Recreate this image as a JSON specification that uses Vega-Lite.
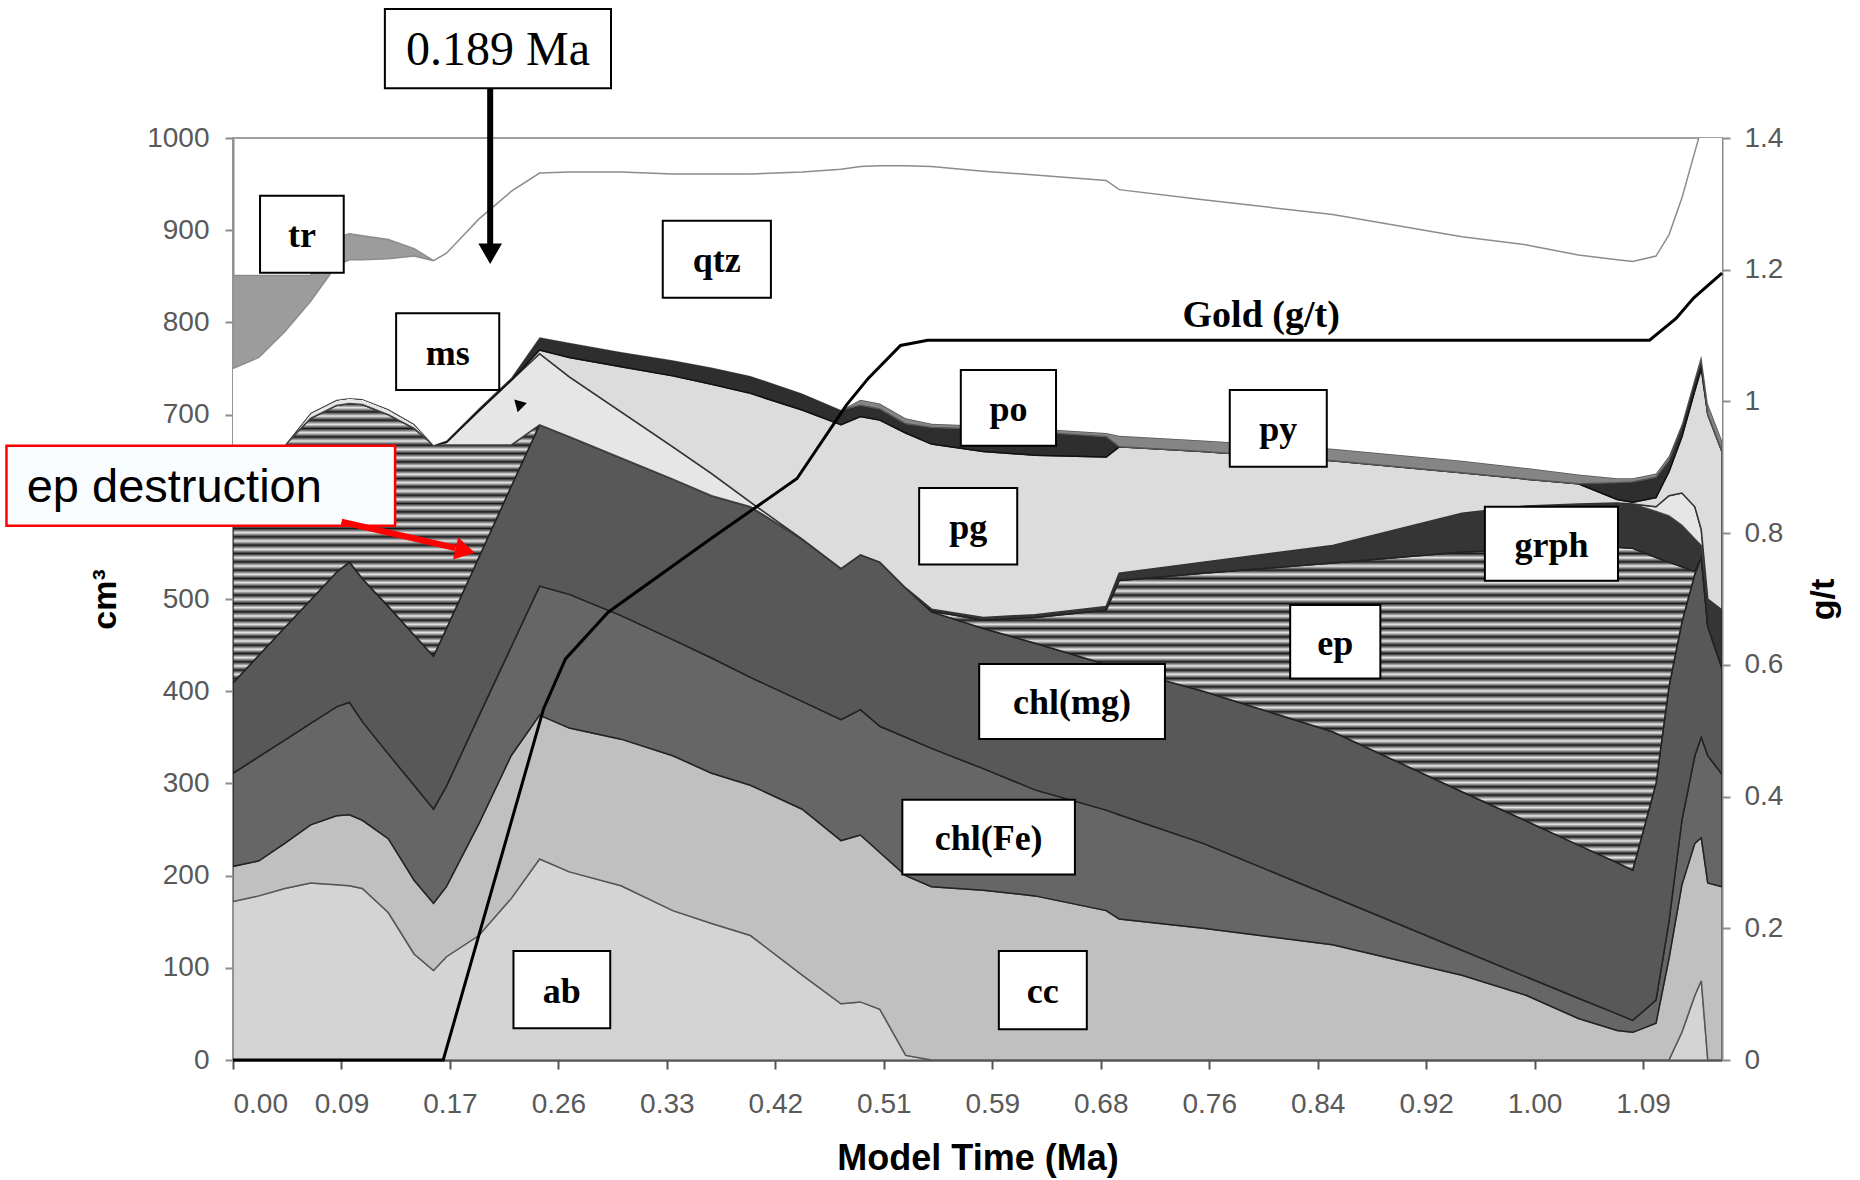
{
  "$schema": "https://vega.github.io/schema/vega-lite/v6.json",
  "width": 1489,
  "height": 922,
  "autosize": {"type": "none"},
  "padding": {"left": 233, "top": 138, "right": 138, "bottom": 120},
  "background": "#ffffff",
  "config": {
    "view": {"stroke": "#a0a0a0", "strokeWidth": 2},
    "axis": {
      "labelFont": "Liberation Sans", "titleFont": "Liberation Sans",
      "labelFontSize": 28, "labelColor": "#595959",
      "titleFontSize": 34, "titleFontWeight": "bold", "titleColor": "#000000",
      "tickColor": "#8c8c8c", "domainColor": "#8c8c8c", "domainWidth": 2, "tickWidth": 2,
      "tickSize": 8, "grid": false, "labelOverlap": false
    }
  },
  "resolve": {"scale": {"y": "independent"}},
  "layer": [
    {
      "layer": [
        {
          "data": {"values": [
            {"t":0,"ab":172,"cc":38,"chl(Fe)":101,"chl(mg)":98,"ep":258,"grph":0,"ms":0,"pg":0,"po":0,"py":0,"qtz":83,"tr":101},
            {"t":0.02,"ab":178,"cc":38,"chl(Fe)":113,"chl(mg)":110,"ep":228,"grph":0,"ms":0,"pg":0,"po":0,"py":0,"qtz":95,"tr":89},
            {"t":0.04,"ab":186,"cc":49,"chl(Fe)":112,"chl(mg)":122,"ep":198,"grph":0,"ms":0,"pg":0,"po":0,"py":0,"qtz":123,"tr":61},
            {"t":0.06,"ab":192,"cc":63,"chl(Fe)":110,"chl(mg)":134,"ep":197,"grph":0,"ms":6,"pg":0,"po":0,"py":0,"qtz":121,"tr":28},
            {"t":0.08,"ab":190,"cc":75,"chl(Fe)":118,"chl(mg)":146,"ep":181,"grph":0,"ms":6,"pg":0,"po":0,"py":0,"qtz":146,"tr":30},
            {"t":0.09,"ab":189,"cc":77,"chl(Fe)":122,"chl(mg)":152,"ep":172,"grph":0,"ms":6,"pg":0,"po":0,"py":0,"qtz":150,"tr":28},
            {"t":0.1,"ab":186,"cc":74,"chl(Fe)":107,"chl(mg)":155,"ep":189,"grph":0,"ms":6,"pg":0,"po":0,"py":0,"qtz":151,"tr":26},
            {"t":0.12,"ab":160,"cc":80,"chl(Fe)":92,"chl(mg)":160,"ep":208,"grph":0,"ms":6,"pg":0,"po":0,"py":0,"qtz":163,"tr":21},
            {"t":0.14,"ab":115,"cc":80,"chl(Fe)":103,"chl(mg)":163,"ep":224,"grph":0,"ms":5,"pg":0,"po":0,"py":0,"qtz":182,"tr":8},
            {"t":0.155,"ab":97,"cc":73,"chl(Fe)":102,"chl(mg)":166,"ep":229,"grph":0,"ms":0,"pg":0,"po":0,"py":0,"qtz":200,"tr":0},
            {"t":0.165,"ab":112,"cc":76,"chl(Fe)":109,"chl(mg)":171,"ep":199,"grph":0,"ms":3,"pg":0,"po":2,"py":0,"qtz":203,"tr":0},
            {"t":0.19,"ab":135,"cc":121,"chl(Fe)":117,"chl(mg)":172,"ep":122,"grph":0,"ms":37,"pg":0,"po":3,"py":0,"qtz":205,"tr":0},
            {"t":0.215,"ab":175,"cc":155,"chl(Fe)":118,"chl(mg)":174,"ep":45,"grph":0,"ms":70,"pg":0,"po":3,"py":0,"qtz":202,"tr":0},
            {"t":0.237,"ab":218,"cc":156,"chl(Fe)":140,"chl(mg)":175,"ep":0,"grph":0,"ms":77,"pg":4,"po":14,"py":0,"qtz":178,"tr":0},
            {"t":0.26,"ab":204,"cc":156,"chl(Fe)":145,"chl(mg)":171,"ep":0,"grph":0,"ms":65,"pg":21,"po":16,"py":0,"qtz":185,"tr":0},
            {"t":0.3,"ab":189,"cc":159,"chl(Fe)":134,"chl(mg)":171,"ep":0,"grph":0,"ms":50,"pg":49,"po":16,"py":0,"qtz":195,"tr":0},
            {"t":0.34,"ab":162,"cc":168,"chl(Fe)":126,"chl(mg)":174,"ep":0,"grph":0,"ms":35,"pg":77,"po":17,"py":0,"qtz":202,"tr":0},
            {"t":0.37,"ab":148,"cc":163,"chl(Fe)":125,"chl(mg)":176,"ep":0,"grph":0,"ms":24,"pg":97,"po":18,"py":0,"qtz":210,"tr":0},
            {"t":0.4,"ab":135,"cc":163,"chl(Fe)":117,"chl(mg)":185,"ep":0,"grph":0,"ms":5,"pg":118,"po":19,"py":0,"qtz":219,"tr":0},
            {"t":0.44,"ab":92,"cc":180,"chl(Fe)":117,"chl(mg)":176,"ep":0,"grph":0,"ms":0,"pg":140,"po":18,"py":0,"qtz":240,"tr":0},
            {"t":0.47,"ab":61,"cc":177,"chl(Fe)":131,"chl(mg)":164,"ep":0,"grph":0,"ms":0,"pg":156,"po":16,"py":0,"qtz":261,"tr":0},
            {"t":0.485,"ab":63,"cc":181,"chl(Fe)":136,"chl(mg)":168,"ep":0,"grph":0,"ms":0,"pg":150,"po":12,"py":6,"qtz":253,"tr":0},
            {"t":0.5,"ab":55,"cc":170,"chl(Fe)":137,"chl(mg)":178,"ep":0,"grph":0,"ms":0,"pg":154,"po":12,"py":6,"qtz":258,"tr":0},
            {"t":0.52,"ab":5,"cc":195,"chl(Fe)":150,"chl(mg)":162,"ep":0,"grph":0,"ms":0,"pg":168,"po":10,"py":6,"qtz":274,"tr":0},
            {"t":0.54,"ab":0,"cc":188,"chl(Fe)":150,"chl(mg)":148,"ep":1,"grph":2,"ms":0,"pg":179,"po":18,"py":4,"qtz":279,"tr":0},
            {"t":0.58,"ab":0,"cc":184,"chl(Fe)":132,"chl(mg)":152,"ep":9,"grph":3,"ms":0,"pg":180,"po":24,"py":4,"qtz":276,"tr":0},
            {"t":0.62,"ab":0,"cc":178,"chl(Fe)":115,"chl(mg)":159,"ep":28,"grph":3,"ms":0,"pg":173,"po":25,"py":4,"qtz":275,"tr":0},
            {"t":0.675,"ab":0,"cc":162,"chl(Fe)":109,"chl(mg)":158,"ep":59,"grph":4,"ms":0,"pg":162,"po":22,"py":4,"qtz":274,"tr":0},
            {"t":0.685,"ab":0,"cc":153,"chl(Fe)":113,"chl(mg)":159,"ep":95,"grph":8,"ms":0,"pg":137,"po":0,"py":12,"qtz":267,"tr":0},
            {"t":0.75,"ab":0,"cc":143,"chl(Fe)":92,"chl(mg)":165,"ep":128,"grph":12,"ms":0,"pg":120,"po":0,"py":12,"qtz":261,"tr":0},
            {"t":0.85,"ab":0,"cc":125,"chl(Fe)":52,"chl(mg)":179,"ep":183,"grph":19,"ms":0,"pg":92,"po":0,"py":13,"qtz":254,"tr":0},
            {"t":0.95,"ab":0,"cc":92,"chl(Fe)":27,"chl(mg)":172,"ep":260,"grph":42,"ms":0,"pg":44,"po":0,"py":13,"qtz":243,"tr":0},
            {"t":1.0,"ab":0,"cc":70,"chl(Fe)":20,"chl(mg)":169,"ep":295,"grph":47,"ms":0,"pg":29,"po":0,"py":12,"qtz":242,"tr":0},
            {"t":1.04,"ab":0,"cc":45,"chl(Fe)":22,"chl(mg)":166,"ep":323,"grph":47,"ms":0,"pg":22,"po":0,"py":10,"qtz":238,"tr":0},
            {"t":1.07,"ab":0,"cc":32,"chl(Fe)":18,"chl(mg)":164,"ep":342,"grph":48,"ms":0,"pg":4,"po":18,"py":5,"qtz":237,"tr":0},
            {"t":1.082,"ab":0,"cc":30,"chl(Fe)":13,"chl(mg)":163,"ep":349,"grph":48,"ms":0,"pg":2,"po":22,"py":4,"qtz":235,"tr":0},
            {"t":1.1,"ab":0,"cc":40,"chl(Fe)":25,"chl(mg)":235,"ep":245,"grph":50,"ms":5,"pg":10,"po":22,"py":4,"qtz":236,"tr":0},
            {"t":1.11,"ab":0,"cc":110,"chl(Fe)":40,"chl(mg)":255,"ep":135,"grph":50,"ms":22,"pg":26,"po":12,"py":5,"qtz":240,"tr":0},
            {"t":1.12,"ab":30,"cc":160,"chl(Fe)":70,"chl(mg)":215,"ep":60,"grph":45,"ms":35,"pg":61,"po":12,"py":2,"qtz":245,"tr":0},
            {"t":1.13,"ab":70,"cc":165,"chl(Fe)":95,"chl(mg)":197,"ep":3,"grph":35,"ms":35,"pg":126,"po":12,"py":2,"qtz":245,"tr":0},
            {"t":1.135,"ab":86,"cc":155,"chl(Fe)":109,"chl(mg)":195,"ep":0,"grph":13,"ms":17,"pg":175,"po":10,"py":4,"qtz":246,"tr":0},
            {"t":1.14,"ab":0,"cc":192,"chl(Fe)":138,"chl(mg)":140,"ep":0,"grph":30,"ms":0,"pg":200,"po":0,"py":12,"qtz":318,"tr":0},
            {"t":1.151,"ab":0,"cc":188,"chl(Fe)":122,"chl(mg)":115,"ep":0,"grph":63,"ms":0,"pg":172,"po":0,"py":12,"qtz":378,"tr":0}
          ]},
          "transform": [{"fold": ["ab","cc","chl(Fe)","chl(mg)","ep","grph","ms","pg","po","py","qtz","tr"], "as": ["mineral","vol"]}],
          "mark": {"type": "area", "clip": true, "strokeWidth": 1.5, "strokeJoin": "miter"},
          "encoding": {
            "x": {"field": "t", "type": "quantitative", "scale": {"domain": [0, 1.151], "nice": false, "zero": false},
                  "axis": {"values": [0,0.083846,0.167692,0.251538,0.335385,0.419231,0.503077,0.586923,0.670769,0.754615,0.838462,0.922308,1.006154,1.09],
                           "labelExpr": "['0.00','0.09','0.17','0.26','0.33','0.42','0.51','0.59','0.68','0.76','0.84','0.92','1.00','1.09'][round(datum.value / 0.083846)]",
                           "title": "Model Time (Ma)", "titleFontSize": 36, "titlePadding": 23, "labelPadding": 21,
                           "tickSize": 9, "domainColor": "#555555", "domainWidth": 2.5, "tickColor": "#555555"}},
            "y": {"field": "vol", "type": "quantitative", "stack": "zero", "scale": {"domain": [0, 1000], "nice": false},
                  "axis": {"values": [0,100,200,300,400,500,700,800,900,1000], "format": "d", "title": "cm³", "titlePadding": 24, "labelPadding": 16}},
            "color": {
              "condition": {"test": "datum.mineral === 'ep'", "value": {"gradient": "linear", "x1": 0, "y1": 0, "x2": 0, "y2": 1, "stops": [
                {"offset":0,"color":"#1a1a1a"},{"offset":0.00893,"color":"#e8e8e8"},{"offset":0.01786,"color":"#1a1a1a"},{"offset":0.02679,"color":"#e8e8e8"},
                {"offset":0.03571,"color":"#1a1a1a"},{"offset":0.04464,"color":"#e8e8e8"},{"offset":0.05357,"color":"#1a1a1a"},{"offset":0.0625,"color":"#e8e8e8"},
                {"offset":0.07143,"color":"#1a1a1a"},{"offset":0.08036,"color":"#e8e8e8"},{"offset":0.08929,"color":"#1a1a1a"},{"offset":0.09821,"color":"#e8e8e8"},
                {"offset":0.10714,"color":"#1a1a1a"},{"offset":0.11607,"color":"#e8e8e8"},{"offset":0.125,"color":"#1a1a1a"},{"offset":0.13393,"color":"#e8e8e8"},
                {"offset":0.14286,"color":"#1a1a1a"},{"offset":0.15179,"color":"#e8e8e8"},{"offset":0.16071,"color":"#1a1a1a"},{"offset":0.16964,"color":"#e8e8e8"},
                {"offset":0.17857,"color":"#1a1a1a"},{"offset":0.1875,"color":"#e8e8e8"},{"offset":0.19643,"color":"#1a1a1a"},{"offset":0.20536,"color":"#e8e8e8"},
                {"offset":0.21429,"color":"#1a1a1a"},{"offset":0.22321,"color":"#e8e8e8"},{"offset":0.23214,"color":"#1a1a1a"},{"offset":0.24107,"color":"#e8e8e8"},
                {"offset":0.25,"color":"#1a1a1a"},{"offset":0.25893,"color":"#e8e8e8"},{"offset":0.26786,"color":"#1a1a1a"},{"offset":0.27679,"color":"#e8e8e8"},
                {"offset":0.28571,"color":"#1a1a1a"},{"offset":0.29464,"color":"#e8e8e8"},{"offset":0.30357,"color":"#1a1a1a"},{"offset":0.3125,"color":"#e8e8e8"},
                {"offset":0.32143,"color":"#1a1a1a"},{"offset":0.33036,"color":"#e8e8e8"},{"offset":0.33929,"color":"#1a1a1a"},{"offset":0.34821,"color":"#e8e8e8"},
                {"offset":0.35714,"color":"#1a1a1a"},{"offset":0.36607,"color":"#e8e8e8"},{"offset":0.375,"color":"#1a1a1a"},{"offset":0.38393,"color":"#e8e8e8"},
                {"offset":0.39286,"color":"#1a1a1a"},{"offset":0.40179,"color":"#e8e8e8"},{"offset":0.41071,"color":"#1a1a1a"},{"offset":0.41964,"color":"#e8e8e8"},
                {"offset":0.42857,"color":"#1a1a1a"},{"offset":0.4375,"color":"#e8e8e8"},{"offset":0.44643,"color":"#1a1a1a"},{"offset":0.45536,"color":"#e8e8e8"},
                {"offset":0.46429,"color":"#1a1a1a"},{"offset":0.47321,"color":"#e8e8e8"},{"offset":0.48214,"color":"#1a1a1a"},{"offset":0.49107,"color":"#e8e8e8"},
                {"offset":0.5,"color":"#1a1a1a"},{"offset":0.50893,"color":"#e8e8e8"},{"offset":0.51786,"color":"#1a1a1a"},{"offset":0.52679,"color":"#e8e8e8"},
                {"offset":0.53571,"color":"#1a1a1a"},{"offset":0.54464,"color":"#e8e8e8"},{"offset":0.55357,"color":"#1a1a1a"},{"offset":0.5625,"color":"#e8e8e8"},
                {"offset":0.57143,"color":"#1a1a1a"},{"offset":0.58036,"color":"#e8e8e8"},{"offset":0.58929,"color":"#1a1a1a"},{"offset":0.59821,"color":"#e8e8e8"},
                {"offset":0.60714,"color":"#1a1a1a"},{"offset":0.61607,"color":"#e8e8e8"},{"offset":0.625,"color":"#1a1a1a"},{"offset":0.63393,"color":"#e8e8e8"},
                {"offset":0.64286,"color":"#1a1a1a"},{"offset":0.65179,"color":"#e8e8e8"},{"offset":0.66071,"color":"#1a1a1a"},{"offset":0.66964,"color":"#e8e8e8"},
                {"offset":0.67857,"color":"#1a1a1a"},{"offset":0.6875,"color":"#e8e8e8"},{"offset":0.69643,"color":"#1a1a1a"},{"offset":0.70536,"color":"#e8e8e8"},
                {"offset":0.71429,"color":"#1a1a1a"},{"offset":0.72321,"color":"#e8e8e8"},{"offset":0.73214,"color":"#1a1a1a"},{"offset":0.74107,"color":"#e8e8e8"},
                {"offset":0.75,"color":"#1a1a1a"},{"offset":0.75893,"color":"#e8e8e8"},{"offset":0.76786,"color":"#1a1a1a"},{"offset":0.77679,"color":"#e8e8e8"},
                {"offset":0.78571,"color":"#1a1a1a"},{"offset":0.79464,"color":"#e8e8e8"},{"offset":0.80357,"color":"#1a1a1a"},{"offset":0.8125,"color":"#e8e8e8"},
                {"offset":0.82143,"color":"#1a1a1a"},{"offset":0.83036,"color":"#e8e8e8"},{"offset":0.83929,"color":"#1a1a1a"},{"offset":0.84821,"color":"#e8e8e8"},
                {"offset":0.85714,"color":"#1a1a1a"},{"offset":0.86607,"color":"#e8e8e8"},{"offset":0.875,"color":"#1a1a1a"},{"offset":0.88393,"color":"#e8e8e8"},
                {"offset":0.89286,"color":"#1a1a1a"},{"offset":0.90179,"color":"#e8e8e8"},{"offset":0.91071,"color":"#1a1a1a"},{"offset":0.91964,"color":"#e8e8e8"},
                {"offset":0.92857,"color":"#1a1a1a"},{"offset":0.9375,"color":"#e8e8e8"},{"offset":0.94643,"color":"#1a1a1a"},{"offset":0.95536,"color":"#e8e8e8"},
                {"offset":0.96429,"color":"#1a1a1a"},{"offset":0.97321,"color":"#e8e8e8"},{"offset":0.98214,"color":"#1a1a1a"},{"offset":0.99107,"color":"#e8e8e8"},
                {"offset":1,"color":"#1a1a1a"}
              ]}},
              "field": "mineral", "type": "nominal", "legend": null,
              "scale": {"domain": ["ab","cc","chl(Fe)","chl(mg)","ep","grph","ms","pg","po","py","qtz","tr"],
                        "range": ["#d4d4d4","#c0c0c0","#666666","#585858","#777777","#353535","#e6e6e6","#dcdcdc","#2e2e2e","#858585","#ffffff","#9c9c9c"]}},
            "stroke": {"field": "mineral", "type": "nominal", "legend": null,
                       "scale": {"domain": ["ab","cc","chl(Fe)","chl(mg)","ep","grph","ms","pg","po","py","qtz","tr"],
                                 "range": ["#777777","#555555","#222222","#222222","#222222","#222222","#444444","#333333","#111111","#555555","transparent","#8c8c8c"]}},
            "order": {"field": "mineral", "sort": "ascending"}
          }
        },
        {
          "data": {"values": [
            {"label":"tr","t0":0.0209,"t1":0.0856,"v0":853.9,"v1":937.4,"tc":0.0533,"vc":895.6},
            {"label":"qtz","t0":0.3322,"t1":0.4158,"v0":826.7,"v1":910.3,"tc":0.374,"vc":868.5},
            {"label":"ms","t0":0.1261,"t1":0.2058,"v0":726.7,"v1":809.9,"tc":0.166,"vc":768.3},
            {"label":"po","t0":0.5626,"t1":0.6362,"v0":666.3,"v1":748.4,"tc":0.5994,"vc":707.3},
            {"label":"py","t0":0.7705,"t1":0.8455,"v0":643.5,"v1":726.7,"tc":0.808,"vc":685.1},
            {"label":"pg","t0":0.5304,"t1":0.6062,"v0":537.3,"v1":620.4,"tc":0.5683,"vc":578.9},
            {"label":"grph","t0":0.9677,"t1":1.0706,"v0":519.8,"v1":600,"tc":1.0192,"vc":559.9},
            {"label":"ep","t0":0.8172,"t1":0.8869,"v0":413.8,"v1":493.5,"tc":0.852,"vc":453.7},
            {"label":"chl(mg)","t0":0.5768,"t1":0.7204,"v0":348.2,"v1":429.5,"tc":0.6486,"vc":388.9},
            {"label":"chl(Fe)","t0":0.5174,"t1":0.6508,"v0":201.1,"v1":282.4,"tc":0.5841,"vc":241.8},
            {"label":"ab","t0":0.2168,"t1":0.2916,"v0":34.4,"v1":118.2,"tc":0.2542,"vc":76.3},
            {"label":"cc","t0":0.592,"t1":0.66,"v0":33.3,"v1":118.2,"tc":0.626,"vc":75.8}
          ]},
          "layer": [
            {
              "mark": {"type": "rect", "fill": "#ffffff", "stroke": "#000000", "strokeWidth": 2},
              "encoding": {
                "x": {"field": "t0", "type": "quantitative", "scale": {"domain": [0, 1.151], "nice": false, "zero": false}, "title": "Model Time (Ma)"},
                "x2": {"field": "t1"},
                "y": {"field": "v0", "type": "quantitative", "scale": {"domain": [0, 1000], "nice": false}, "title": "cm³"},
                "y2": {"field": "v1"}
              }
            },
            {
              "mark": {"type": "text", "font": "Liberation Serif", "fontWeight": "bold", "fontSize": 36, "align": "center", "baseline": "middle", "dy": 2, "color": "#000000"},
              "encoding": {
                "x": {"field": "tc", "type": "quantitative", "scale": {"domain": [0, 1.151], "nice": false, "zero": false}, "title": "Model Time (Ma)"},
                "y": {"field": "vc", "type": "quantitative", "scale": {"domain": [0, 1000], "nice": false}, "title": "cm³"},
                "text": {"field": "label"}
              }
            }
          ]
        },
        {
          "data": {"values": [{"label":"0.189 Ma","t0":0.1174,"t1":0.2922,"v0":1053.9,"v1":1139.9,"tc":0.2048,"vb":1079}]},
          "layer": [
            {
              "mark": {"type": "rect", "fill": "#ffffff", "stroke": "#000000", "strokeWidth": 2, "clip": false},
              "encoding": {
                "x": {"field": "t0", "type": "quantitative", "scale": {"domain": [0, 1.151], "nice": false, "zero": false}, "title": "Model Time (Ma)"},
                "x2": {"field": "t1"},
                "y": {"field": "v0", "type": "quantitative", "scale": {"domain": [0, 1000], "nice": false}, "title": "cm³"},
                "y2": {"field": "v1"}
              }
            },
            {
              "mark": {"type": "text", "font": "Liberation Serif", "fontSize": 48, "align": "center", "baseline": "alphabetic", "color": "#000000"},
              "encoding": {
                "x": {"field": "tc", "type": "quantitative", "scale": {"domain": [0, 1.151], "nice": false, "zero": false}, "title": "Model Time (Ma)"},
                "y": {"field": "vb", "type": "quantitative", "scale": {"domain": [0, 1000], "nice": false}, "title": "cm³"},
                "text": {"field": "label"}
              }
            }
          ]
        },
        {
          "data": {"values": [{"label":"ep destruction","t0":-0.1751,"t1":0.1253,"v0":579.5,"v1":666.3,"tl":-0.1595,"vb":605.5}]},
          "layer": [
            {
              "mark": {"type": "rect", "fill": "#fafdff", "stroke": "#ff0000", "strokeWidth": 2.5, "clip": false},
              "encoding": {
                "x": {"field": "t0", "type": "quantitative", "scale": {"domain": [0, 1.151], "nice": false, "zero": false}, "title": "Model Time (Ma)"},
                "x2": {"field": "t1"},
                "y": {"field": "v0", "type": "quantitative", "scale": {"domain": [0, 1000], "nice": false}, "title": "cm³"},
                "y2": {"field": "v1"}
              }
            },
            {
              "mark": {"type": "text", "font": "Liberation Sans", "fontSize": 47, "align": "left", "baseline": "alphabetic", "color": "#000000"},
              "encoding": {
                "x": {"field": "tl", "type": "quantitative", "scale": {"domain": [0, 1.151], "nice": false, "zero": false}, "title": "Model Time (Ma)"},
                "y": {"field": "vb", "type": "quantitative", "scale": {"domain": [0, 1000], "nice": false}, "title": "cm³"},
                "text": {"field": "label"}
              }
            }
          ]
        },
        {
          "data": {"values": [{"t":0.1988,"v":1053.9,"t2":0.1988,"v2":885}]},
          "mark": {"type": "rule", "strokeWidth": 6, "strokeCap": "butt", "color": "#000000"},
          "encoding": {
            "x": {"field": "t", "type": "quantitative", "scale": {"domain": [0, 1.151], "nice": false, "zero": false}, "title": "Model Time (Ma)"},
            "y": {"field": "v", "type": "quantitative", "scale": {"domain": [0, 1000], "nice": false}, "title": "cm³"},
            "x2": {"field": "t2"},
            "y2": {"field": "v2"}
          }
        },
        {
          "data": {"values": [{"t":0.0839,"v":583.8,"t2":0.172,"v2":555.3}]},
          "mark": {"type": "rule", "strokeWidth": 6, "strokeCap": "butt", "color": "#ff0000"},
          "encoding": {
            "x": {"field": "t", "type": "quantitative", "scale": {"domain": [0, 1.151], "nice": false, "zero": false}, "title": "Model Time (Ma)"},
            "y": {"field": "v", "type": "quantitative", "scale": {"domain": [0, 1000], "nice": false}, "title": "cm³"},
            "x2": {"field": "t2"},
            "y2": {"field": "v2"}
          }
        },
        {
          "data": {"values": [{"t":0.1988,"v":874.5}]},
          "mark": {"type": "point", "shape": "triangle-down", "size": 560, "filled": true, "opacity": 1, "color": "#000000"},
          "encoding": {
            "x": {"field": "t", "type": "quantitative", "scale": {"domain": [0, 1.151], "nice": false, "zero": false}, "title": "Model Time (Ma)"},
            "y": {"field": "v", "type": "quantitative", "scale": {"domain": [0, 1000], "nice": false}, "title": "cm³"}
          }
        },
        {
          "data": {"values": [{"t":0.1795,"v":552.5}]},
          "mark": {"type": "point", "shape": "triangle-right", "size": 520, "angle": 13, "filled": true, "opacity": 1, "color": "#ff0000"},
          "encoding": {
            "x": {"field": "t", "type": "quantitative", "scale": {"domain": [0, 1.151], "nice": false, "zero": false}, "title": "Model Time (Ma)"},
            "y": {"field": "v", "type": "quantitative", "scale": {"domain": [0, 1000], "nice": false}, "title": "cm³"}
          }
        },
        {
          "data": {"values": [{"t":0.2205,"v":712}]},
          "mark": {"type": "point", "shape": "triangle-up", "size": 170, "angle": -45, "filled": true, "opacity": 1, "color": "#000000"},
          "encoding": {
            "x": {"field": "t", "type": "quantitative", "scale": {"domain": [0, 1.151], "nice": false, "zero": false}, "title": "Model Time (Ma)"},
            "y": {"field": "v", "type": "quantitative", "scale": {"domain": [0, 1000], "nice": false}, "title": "cm³"}
          }
        },
        {
          "data": {"values": [{"label":"Gold (g/t)","t":0.7948,"v":795}]},
          "mark": {"type": "text", "font": "Liberation Serif", "fontWeight": "bold", "fontSize": 38, "align": "center", "baseline": "alphabetic", "color": "#000000"},
          "encoding": {
            "x": {"field": "t", "type": "quantitative", "scale": {"domain": [0, 1.151], "nice": false, "zero": false}, "title": "Model Time (Ma)"},
            "y": {"field": "v", "type": "quantitative", "scale": {"domain": [0, 1000], "nice": false}, "title": "cm³"},
            "text": {"field": "label"}
          }
        }
      ]
    },
    {
      "data": {"values": [
        {"t":0,"g":0},{"t":0.1625,"g":0},{"t":0.24,"g":0.533},{"t":0.257,"g":0.609},{"t":0.29,"g":0.68},
        {"t":0.369,"g":0.791},{"t":0.436,"g":0.883},{"t":0.474,"g":0.994},{"t":0.491,"g":1.035},
        {"t":0.516,"g":1.085},{"t":0.537,"g":1.093},{"t":1.095,"g":1.093},{"t":1.1155,"g":1.126},
        {"t":1.129,"g":1.157},{"t":1.151,"g":1.195}
      ]},
      "mark": {"type": "line", "color": "#000000", "strokeWidth": 3},
      "encoding": {
        "x": {"field": "t", "type": "quantitative", "scale": {"domain": [0, 1.151], "nice": false, "zero": false}, "title": "Model Time (Ma)"},
        "y": {"field": "g", "type": "quantitative", "scale": {"domain": [0, 1.4], "nice": false},
              "axis": {"orient": "right", "values": [0,0.2,0.4,0.6,0.8,1,1.2,1.4], "format": "~g", "title": "g/t",
                       "titleAngle": 270, "titlePadding": 58, "labelPadding": 14}}
      }
    }
  ]
}
